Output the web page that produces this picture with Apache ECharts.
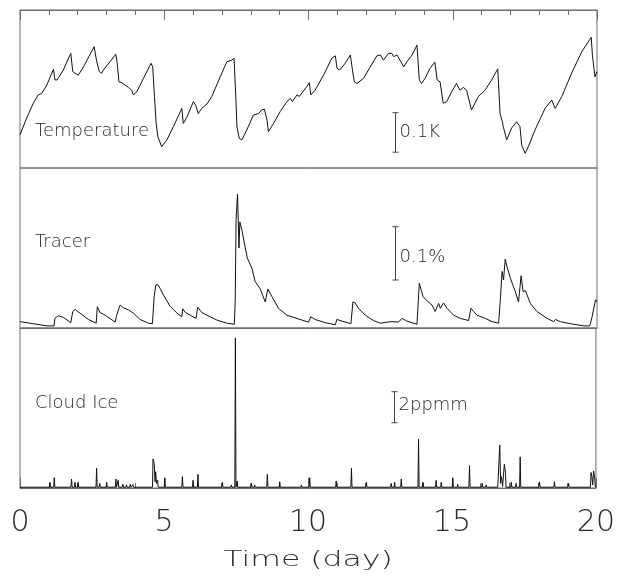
<!DOCTYPE html>
<html>
<head>
<meta charset="utf-8">
<script src="https://cdn.jsdelivr.net/npm/echarts@6/dist/echarts.min.js"></script>
<style>
  html, body { margin: 0; padding: 0; background: #fff; }
  #chart { width: 618px; height: 580px; }
</style>
</head>
<body>
<div id="chart"></div>
<script>
// Time axis (days) shared by the three panels
const dayTicks = [0, 5, 10, 15, 20];

// Temperature anomaly (K)
const tempDays = [
  0.00,0.23,0.46,0.63,0.75,0.93,1.16,1.21,1.29,1.50,
  1.76,1.83,1.91,1.97,2.02,2.20,2.57,2.66,2.75,2.83,
  2.89,3.12,3.32,3.37,3.43,3.53,3.64,3.76,3.87,3.93,
  4.05,4.28,4.54,4.60,4.66,4.72,4.78,4.91,5.09,5.32,
  5.61,5.66,5.78,6.01,6.09,6.18,6.30,6.48,6.65,6.94,
  7.17,7.34,7.42,7.48,7.52,7.60,7.66,7.69,7.86,8.09,
  8.27,8.38,8.47,8.56,8.61,8.79,9.02,9.25,9.37,9.44,
  9.60,9.68,9.94,10.03,10.08,10.23,10.52,10.81,10.93,10.99,
  11.08,11.27,11.45,11.54,11.59,11.68,11.91,12.14,12.37,12.49,
  12.60,12.77,12.89,12.95,13.07,13.30,13.41,13.59,13.76,13.84,
  13.92,14.04,14.21,14.38,14.46,14.56,14.67,14.79,14.96,15.13,
  15.25,15.37,15.48,15.54,15.65,15.89,16.12,16.35,16.56,16.64,
  16.72,16.75,16.87,17.04,17.21,17.33,17.39,17.51,17.62,17.85,
  18.20,18.43,18.55,18.78,19.12,19.47,19.80,19.84,19.93,20.00
];
const tempK = [
  0.084,0.126,0.164,0.185,0.189,0.210,0.250,0.223,0.223,0.248,
  0.290,0.244,0.240,0.244,0.235,0.256,0.307,0.269,0.244,0.240,
  0.248,0.269,0.288,0.265,0.218,0.216,0.210,0.204,0.197,0.185,
  0.193,0.227,0.265,0.256,0.181,0.113,0.079,0.054,0.071,0.105,
  0.151,0.113,0.128,0.168,0.159,0.138,0.151,0.162,0.181,0.231,
  0.269,0.273,0.278,0.181,0.105,0.075,0.079,0.071,0.096,0.134,
  0.138,0.147,0.149,0.122,0.092,0.113,0.143,0.168,0.176,0.168,
  0.185,0.181,0.206,0.216,0.185,0.197,0.235,0.278,0.284,0.252,
  0.248,0.265,0.286,0.240,0.218,0.214,0.227,0.256,0.284,0.286,
  0.273,0.290,0.290,0.282,0.286,0.256,0.269,0.286,0.311,0.223,
  0.214,0.227,0.252,0.268,0.223,0.218,0.164,0.168,0.193,0.214,
  0.197,0.204,0.197,0.197,0.147,0.181,0.197,0.223,0.251,0.138,
  0.117,0.105,0.071,0.101,0.117,0.105,0.058,0.037,0.054,0.096,
  0.151,0.172,0.151,0.181,0.240,0.294,0.331,0.286,0.231,0.244
];

// Tracer (%)
const tracerDays = [
  0.00,0.46,0.93,1.18,1.21,1.33,1.50,1.76,1.83,1.91,
  1.99,2.08,2.37,2.64,2.68,2.77,2.89,3.03,3.30,3.35,
  3.47,3.58,3.76,3.93,4.16,4.45,4.59,4.65,4.71,4.78,
  4.86,4.97,5.20,5.44,5.61,5.64,5.73,5.90,6.10,6.16,
  6.30,6.48,6.82,7.17,7.43,7.46,7.49,7.54,7.59,7.62,
  7.69,7.80,7.88,8.04,8.15,8.32,8.50,8.59,8.73,8.96,
  9.25,9.42,9.71,10.00,10.08,10.23,10.58,10.93,10.98,11.16,
  11.47,11.54,11.62,11.73,11.97,12.25,12.49,12.72,12.89,12.95,
  13.12,13.24,13.41,13.76,13.84,13.90,13.97,14.05,14.28,14.39,
  14.51,14.57,14.68,14.80,15.03,15.26,15.55,15.63,15.72,15.84,
  16.13,16.36,16.59,16.65,16.71,16.76,16.82,16.88,17.00,17.17,
  17.28,17.37,17.44,17.52,17.69,17.92,18.27,18.50,18.56,18.73,
  19.08,19.54,19.75,19.83,19.89,19.95,20.00
];
const tracerPct = [
  0.012,0.008,0.004,0.004,0.018,0.023,0.020,0.010,0.031,0.035,
  0.031,0.028,0.016,0.009,0.040,0.029,0.026,0.021,0.011,0.024,
  0.043,0.038,0.034,0.028,0.016,0.009,0.008,0.059,0.081,0.081,
  0.074,0.062,0.041,0.028,0.021,0.036,0.029,0.024,0.018,0.039,
  0.029,0.024,0.015,0.009,0.007,0.053,0.203,0.251,0.150,0.199,
  0.184,0.153,0.131,0.112,0.087,0.074,0.049,0.073,0.059,0.037,
  0.024,0.021,0.016,0.011,0.021,0.016,0.010,0.006,0.016,0.013,
  0.008,0.049,0.047,0.037,0.024,0.014,0.009,0.011,0.012,0.015,
  0.011,0.018,0.013,0.007,0.084,0.081,0.059,0.054,0.043,0.031,
  0.046,0.037,0.047,0.037,0.024,0.018,0.014,0.037,0.031,0.024,
  0.018,0.012,0.009,0.053,0.106,0.090,0.129,0.115,0.093,0.068,
  0.049,0.098,0.068,0.070,0.046,0.031,0.018,0.012,0.016,0.012,
  0.008,0.004,0.004,0.021,0.037,0.053,0.049
];

// Cloud ice (ppmm): [day, value] samples, mostly near zero with short bursts
const iceSamples = [
  [0.00,0.05],
  [1.02,0.05],[1.04,0.37],[1.06,0.05],
  [1.17,0.05],[1.19,0.66],[1.21,0.05],
  [1.77,0.05],[1.79,0.58],[1.81,0.05],
  [1.89,0.05],[1.91,0.37],[1.93,0.05],
  [2.00,0.05],[2.02,0.37],[2.04,0.05],
  [2.64,0.05],[2.66,1.27],[2.68,0.05],
  [2.75,0.05],[2.77,0.30],[2.79,0.05],
  [2.99,0.05],[3.01,0.37],[3.03,0.05],
  [3.31,0.05],[3.33,0.58],[3.35,0.05],
  [3.39,0.05],[3.41,0.50],[3.43,0.05],
  [3.55,0.05],[3.57,0.25],[3.59,0.05],
  [3.68,0.05],[3.70,0.20],[3.72,0.05],
  [3.81,0.05],[3.83,0.25],[3.85,0.05],
  [3.90,0.05],[3.92,0.22],[3.94,0.05],
  [4.60,0.05],[4.62,1.87],[4.66,1.60],[4.69,0.40],[4.71,1.05],[4.74,0.30],[4.78,0.50],[4.80,0.05],
  [5.01,0.05],[5.03,0.66],[5.05,0.05],
  [5.62,0.05],[5.64,0.73],[5.66,0.05],
  [5.99,0.05],[6.01,0.50],[6.03,0.05],
  [6.16,0.05],[6.18,0.88],[6.20,0.05],
  [7.01,0.05],[7.03,0.37],[7.05,0.05],
  [7.32,0.05],[7.34,0.20],[7.36,0.05],
  [7.46,0.05],[7.48,9.66],[7.50,0.05],
  [7.52,0.05],[7.54,0.45],[7.56,0.05],
  [8.02,0.05],[8.04,0.30],[8.06,0.05],
  [8.13,0.05],[8.15,0.20],[8.17,0.05],
  [8.57,0.05],[8.59,0.88],[8.61,0.05],
  [9.00,0.05],[9.02,0.40],[9.04,0.05],
  [9.75,0.05],[9.77,0.20],[9.79,0.05],
  [10.04,0.05],[10.06,0.66],[10.08,0.05],
  [10.96,0.05],[10.98,0.45],[11.00,0.05],
  [11.49,0.05],[11.51,1.27],[11.53,0.05],
  [12.01,0.05],[12.03,0.37],[12.05,0.05],
  [12.87,0.05],[12.89,0.30],[12.91,0.05],
  [12.99,0.05],[13.01,0.37],[13.03,0.05],
  [13.22,0.05],[13.24,0.58],[13.26,0.05],
  [13.82,0.05],[13.84,3.14],[13.86,0.05],
  [13.97,0.05],[13.99,0.37],[14.01,0.05],
  [14.43,0.05],[14.45,0.50],[14.47,0.05],
  [14.61,0.05],[14.63,0.37],[14.65,0.05],
  [15.01,0.05],[15.03,0.66],[15.05,0.05],
  [15.18,0.05],[15.20,0.25],[15.22,0.05],
  [15.59,0.05],[15.61,1.44],[15.63,0.05],
  [16.03,0.05],[16.05,0.30],[16.07,0.05],
  [16.17,0.05],[16.19,0.20],[16.21,0.05],
  [16.59,0.05],[16.61,0.73],[16.66,2.77],[16.69,0.30],[16.72,0.73],[16.76,0.10],[16.82,1.53],[16.86,1.00],[16.88,0.05],
  [17.04,0.05],[17.06,0.37],[17.08,0.05],
  [17.21,0.05],[17.23,0.30],[17.25,0.05],
  [17.35,0.05],[17.37,2.00],[17.39,0.05],
  [18.02,0.05],[18.04,0.40],[18.06,0.05],
  [18.54,0.05],[18.56,0.40],[18.58,0.05],
  [19.03,0.05],[19.05,0.30],[19.07,0.05],
  [19.81,0.05],[19.83,1.00],[19.86,0.73],[19.89,0.20],[19.92,1.10],[19.96,0.60],[19.98,0.05],
  [20.00,0.05]
];

// Panel names and scale bars: [day, lower, upper] in each panel's own units
const panelNames = ['Temperature', 'Tracer', 'Cloud Ice'];
const panelMax = [0.4, 0.3, 10.3];
const scaleBarTemp = [13.0, 0.04, 0.14];
const scaleBarTracer = [13.0, 0.09, 0.19];
const scaleBarIce = [13.0, 4.2, 6.2];
const scaleBarText = ['0.1K', '0.1%', '2ppmm'];

const FONT = '"DejaVu Sans", "Liberation Sans", sans-serif';
const INK = '#2a2a2a';
const FRAME = '#6e6e6e';

const chart = echarts.init(document.getElementById('chart'), null, { renderer: 'canvas' });

const panelTops = [10, 168, 328];
const panelHeights = [158, 160, 160];
const grids = panelTops.map((t, i) => ({
  left: 20, right: 21, top: t, height: panelHeights[i],
  show: true, borderColor: FRAME, borderWidth: 1, backgroundColor: 'transparent'
}));

const xAxes = [0, 1, 2].map(i => ({
  type: 'value', gridIndex: i,
  min: dayTicks[0], max: dayTicks[dayTicks.length - 1], interval: dayTicks[1] - dayTicks[0],
  position: i === 0 ? 'top' : 'bottom',
  axisLine: { show: true, onZero: false, lineStyle: { color: FRAME, width: 1 } },
  axisTick: { show: i !== 1, inside: true, length: 10, lineStyle: { color: FRAME, width: 1 } },
  minorTick: { show: i !== 1, splitNumber: 5, length: 5, lineStyle: { color: FRAME, width: 1 } },
  splitLine: { show: false },
  minorSplitLine: { show: false },
  axisLabel: {
    show: i === 2, margin: 20, color: INK, fontFamily: FONT, fontSize: 30, fontWeight: 200,
    formatter: v => String(v)
  }
}));

const yAxes = [0, 1, 2].map(i => ({
  type: 'value', gridIndex: i, min: 0, max: panelMax[i], show: false
}));

function zip(xs, ys) { return xs.map((x, k) => [x, ys[k]]); }

function lineSeries(i, data) {
  return {
    type: 'line', xAxisIndex: i, yAxisIndex: i, data,
    showSymbol: false, symbol: 'none', smooth: false,
    lineStyle: { color: '#111', width: 1 }, silent: true, animation: false
  };
}

function scaleBarSeries(i, bar, text, textDy) {
  return {
    type: 'custom', xAxisIndex: i, yAxisIndex: i, data: [bar], silent: true, animation: false,
    renderItem: (params, api) => {
      const lo = api.coord([api.value(0), api.value(1)]);
      const hi = api.coord([api.value(0), api.value(2)]);
      const x = Math.round(lo[0]) + 0.5;
      const stroke = { stroke: '#444', lineWidth: 1 };
      return {
        type: 'group',
        children: [
          { type: 'line', shape: { x1: x, y1: lo[1], x2: x, y2: hi[1] }, style: stroke },
          { type: 'line', shape: { x1: x - 3, y1: lo[1], x2: x + 3, y2: lo[1] }, style: stroke },
          { type: 'line', shape: { x1: x - 3, y1: hi[1], x2: x + 3, y2: hi[1] }, style: stroke },
          {
            type: 'text', x: x + 4, y: (lo[1] + hi[1]) / 2 + textDy,
            style: { text, fill: INK, font: '200 18px ' + FONT, textVerticalAlign: 'middle', textAlign: 'left' }
          }
        ]
      };
    }
  };
}

const labelY = [131, 242, 403];
const graphics = panelNames.map((name, i) => ({
  type: 'text', x: 35, y: labelY[i], silent: true,
  style: { text: name, fill: INK, font: '200 18px ' + FONT, textVerticalAlign: 'middle', textAlign: 'left' }
}));
graphics.push({
  type: 'text', x: 308, y: 561, scaleX: 1.5, silent: true,
  style: { text: 'Time (day)', fill: INK, font: '200 21px ' + FONT, textVerticalAlign: 'middle', textAlign: 'center' }
});

chart.setOption({
  animation: false,
  backgroundColor: '#fff',
  grid: grids,
  xAxis: xAxes,
  yAxis: yAxes,
  series: [
    lineSeries(0, zip(tempDays, tempK)),
    lineSeries(1, zip(tracerDays, tracerPct)),
    lineSeries(2, iceSamples),
    scaleBarSeries(0, scaleBarTemp, scaleBarText[0], 0),
    scaleBarSeries(1, scaleBarTracer, scaleBarText[1], 4),
    scaleBarSeries(2, scaleBarIce, scaleBarText[2], -2)
  ],
  graphic: graphics
});
</script>
</body>
</html>
